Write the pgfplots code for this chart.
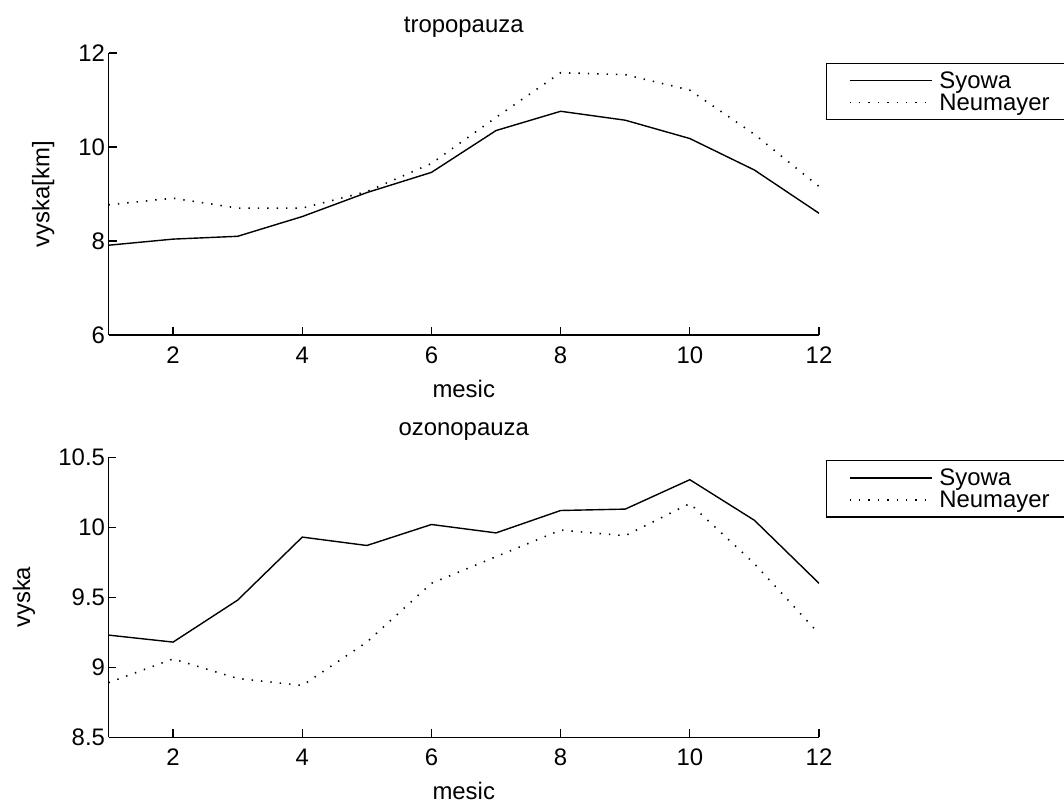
\documentclass[border=0pt]{standalone}
\usepackage{fontspec}
\setmainfont{Liberation Sans}
\usepackage{pgfplots}
\pgfplotsset{compat=1.18}

% matlab-like subplot: box off, ticks inside
\pgfplotsset{
  mfig/.style={
    scale only axis, width=710.5bp,
    xmin=1, xmax=12, xtick={2,4,...,12},
    axis x line*=bottom, axis y line*=left,
    axis line style={-, line width=1.3bp},
    tick align=inside, major tick length=8bp,
    every tick/.style={black, line width=1.3bp},
    font=\fontsize{24}{28}\selectfont,
    /pgf/number format/assume math mode=true,
    xticklabel style={anchor=center, yshift=-20bp},
    xlabel style={at={(axis description cs:0.5,0)}, anchor=center, yshift=-54bp},
    title style={at={(axis description cs:0.5,1)}, anchor=center, yshift=20bp},
    legend cell align=left,
    legend style={anchor=north west, draw=black, line width=1.3bp, fill=white,
      inner xsep=22bp, inner ysep=6bp, row sep=0bp,
      nodes={inner sep=2bp}},
    legend image code/.code={\draw[#1] (0bp,0bp) -- (82bp,0bp); \path (87bp,0bp);},
  },
  syowa/.style={black, line width=1.4bp},
  neum/.style={black, line width=1.6bp, dash pattern=on 1.4bp off 8bp},
}

\begin{document}
\begin{tikzpicture}
\begin{axis}[mfig, at={(108.5bp,474bp)}, anchor=south west, height=282bp,
  ymin=6, ymax=12, ytick={6,8,10,12},
  title={tropopauza}, xlabel={mesic}, ylabel={vyska[km]},
  ylabel style={at={(axis description cs:-0.092,0.5)}, anchor=center},
  legend style={at={(1.01,0.965)}},
]
\addplot[syowa] coordinates {(1,7.91)(2,8.04)(3,8.10)(4,8.52)(5,9.03)(6,9.46)
  (7,10.35)(8,10.76)(9,10.57)(10,10.18)(11,9.51)(12,8.59)};
\addlegendentry{Syowa}
\addplot[neum] coordinates {(1,8.77)(2,8.91)(3,8.70)(4,8.70)(5,9.05)(6,9.65)
  (7,10.63)(8,11.58)(9,11.54)(10,11.21)(11,10.27)(12,9.16)};
\addlegendentry{Neumayer}
\end{axis}

\begin{axis}[mfig, at={(108.5bp,71.7bp)}, anchor=south west, height=280bp,
  ymin=8.5, ymax=10.5, ytick={8.5,9,9.5,10,10.5},
  title={ozonopauza}, xlabel={mesic}, ylabel={vyska},
  ylabel style={at={(axis description cs:-0.119,0.5)}, anchor=center},
  legend style={at={(1.01,0.99)}},
]
\addplot[syowa] coordinates {(1,9.23)(2,9.18)(3,9.48)(4,9.93)(5,9.87)(6,10.02)
  (7,9.96)(8,10.12)(9,10.13)(10,10.34)(11,10.05)(12,9.60)};
\addlegendentry{Syowa}
\addplot[neum] coordinates {(1,8.89)(2,9.06)(3,8.92)(4,8.87)(5,9.18)(6,9.60)
  (7,9.79)(8,9.98)(9,9.94)(10,10.17)(11,9.74)(12,9.24)};
\addlegendentry{Neumayer}
\end{axis}

\pgfresetboundingbox
\path[use as bounding box] (0bp,0bp) rectangle (1064bp,809bp);
\end{tikzpicture}
\end{document}
